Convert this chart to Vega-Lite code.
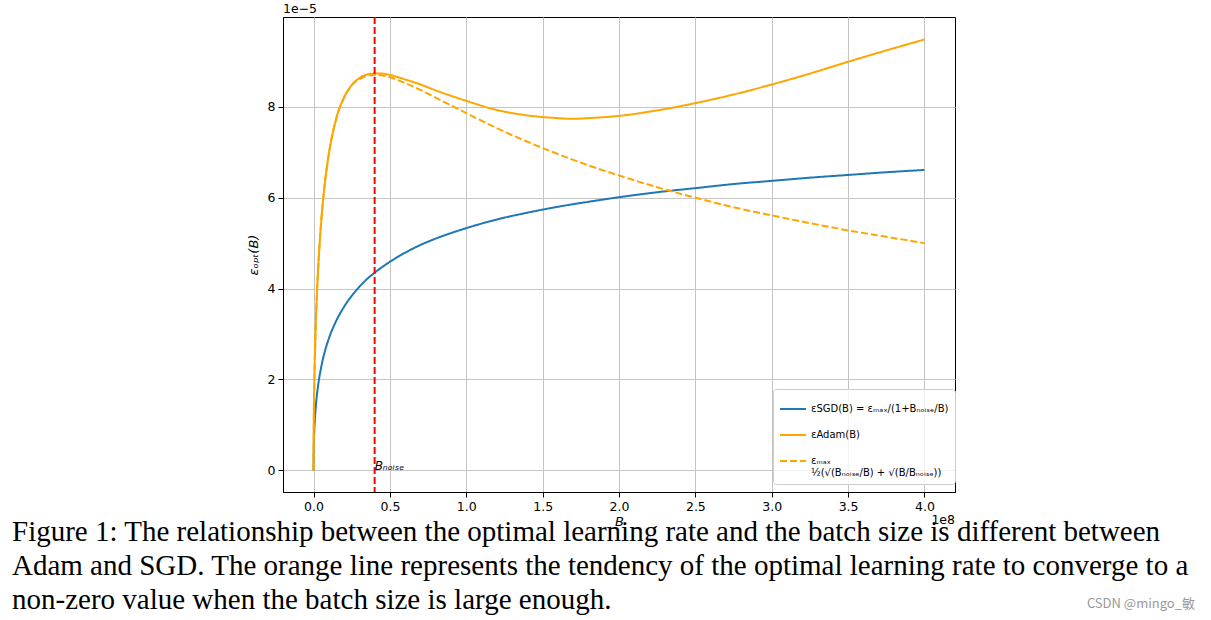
{
  "$schema": "https://vega.github.io/schema/vega-lite/v6.json",
  "width": 672,
  "height": 475,
  "autosize": "none",
  "padding": {"left": 283, "top": 17, "right": 256, "bottom": 128},
  "background": "white",
  "config": {
    "font": "DejaVu Sans",
    "view": {"stroke": "black", "strokeWidth": 1},
    "axis": {
      "domainColor": "black",
      "tickColor": "black",
      "tickSize": 5,
      "labelColor": "black",
      "labelFontSize": 12.5,
      "labelPadding": 3,
      "gridColor": "#c4c4c4",
      "gridWidth": 1,
      "titleColor": "black",
      "titleFontWeight": "normal",
      "titleFontSize": 13
    }
  },
  "title": {
    "text": [
      "Figure 1: The relationship between the optimal learning rate and the batch size is different between",
      "Adam and SGD. The orange line represents the tendency of the optimal learning rate to converge to a",
      "non-zero value when the batch size is large enough."
    ],
    "orient": "bottom",
    "anchor": "start",
    "frame": "group",
    "font": "Liberation Serif",
    "fontSize": 29,
    "fontWeight": "normal",
    "color": "black",
    "lineHeight": 34,
    "dx": -271,
    "offset": -93
  },
  "datasets": {
    "curves": [
      {"B": 0, "eps": 0, "series": "sgd"},
      {"B": 0.002, "eps": 0.57, "series": "sgd"},
      {"B": 0.005, "eps": 0.87, "series": "sgd"},
      {"B": 0.01, "eps": 1.19, "series": "sgd"},
      {"B": 0.02, "eps": 1.59, "series": "sgd"},
      {"B": 0.03, "eps": 1.87, "series": "sgd"},
      {"B": 0.05, "eps": 2.27, "series": "sgd"},
      {"B": 0.075, "eps": 2.63, "series": "sgd"},
      {"B": 0.1, "eps": 2.9, "series": "sgd"},
      {"B": 0.15, "eps": 3.3, "series": "sgd"},
      {"B": 0.2, "eps": 3.6, "series": "sgd"},
      {"B": 0.25, "eps": 3.84, "series": "sgd"},
      {"B": 0.3, "eps": 4.04, "series": "sgd"},
      {"B": 0.35, "eps": 4.21, "series": "sgd"},
      {"B": 0.4, "eps": 4.35, "series": "sgd"},
      {"B": 0.5, "eps": 4.59, "series": "sgd"},
      {"B": 0.6, "eps": 4.79, "series": "sgd"},
      {"B": 0.7, "eps": 4.96, "series": "sgd"},
      {"B": 0.8, "eps": 5.1, "series": "sgd"},
      {"B": 1.0, "eps": 5.33, "series": "sgd"},
      {"B": 1.2, "eps": 5.52, "series": "sgd"},
      {"B": 1.4, "eps": 5.67, "series": "sgd"},
      {"B": 1.6, "eps": 5.8, "series": "sgd"},
      {"B": 1.8, "eps": 5.91, "series": "sgd"},
      {"B": 2.0, "eps": 6.01, "series": "sgd"},
      {"B": 2.25, "eps": 6.12, "series": "sgd"},
      {"B": 2.5, "eps": 6.21, "series": "sgd"},
      {"B": 2.75, "eps": 6.3, "series": "sgd"},
      {"B": 3.0, "eps": 6.37, "series": "sgd"},
      {"B": 3.25, "eps": 6.44, "series": "sgd"},
      {"B": 3.5, "eps": 6.5, "series": "sgd"},
      {"B": 3.75, "eps": 6.56, "series": "sgd"},
      {"B": 4.0, "eps": 6.61, "series": "sgd"},

      {"B": 0, "eps": 0, "series": "adam"},
      {"B": 0.002, "eps": 1.22, "series": "adam"},
      {"B": 0.005, "eps": 1.92, "series": "adam"},
      {"B": 0.01, "eps": 2.68, "series": "adam"},
      {"B": 0.02, "eps": 3.71, "series": "adam"},
      {"B": 0.03, "eps": 4.43, "series": "adam"},
      {"B": 0.05, "eps": 5.47, "series": "adam"},
      {"B": 0.075, "eps": 6.35, "series": "adam"},
      {"B": 0.1, "eps": 6.96, "series": "adam"},
      {"B": 0.15, "eps": 7.76, "series": "adam"},
      {"B": 0.2, "eps": 8.21, "series": "adam"},
      {"B": 0.25, "eps": 8.48, "series": "adam"},
      {"B": 0.3, "eps": 8.63, "series": "adam"},
      {"B": 0.35, "eps": 8.71, "series": "adam"},
      {"B": 0.4, "eps": 8.73, "series": "adam"},
      {"B": 0.45, "eps": 8.73, "series": "adam"},
      {"B": 0.5, "eps": 8.7, "series": "adam"},
      {"B": 0.6, "eps": 8.6, "series": "adam"},
      {"B": 0.7, "eps": 8.49, "series": "adam"},
      {"B": 0.8, "eps": 8.36, "series": "adam"},
      {"B": 1.0, "eps": 8.13, "series": "adam"},
      {"B": 1.2, "eps": 7.93, "series": "adam"},
      {"B": 1.4, "eps": 7.81, "series": "adam"},
      {"B": 1.6, "eps": 7.75, "series": "adam"},
      {"B": 1.7, "eps": 7.735, "series": "adam"},
      {"B": 1.8, "eps": 7.75, "series": "adam"},
      {"B": 2.0, "eps": 7.8, "series": "adam"},
      {"B": 2.25, "eps": 7.92, "series": "adam"},
      {"B": 2.5, "eps": 8.08, "series": "adam"},
      {"B": 2.75, "eps": 8.27, "series": "adam"},
      {"B": 3.0, "eps": 8.49, "series": "adam"},
      {"B": 3.25, "eps": 8.73, "series": "adam"},
      {"B": 3.5, "eps": 8.99, "series": "adam"},
      {"B": 3.75, "eps": 9.24, "series": "adam"},
      {"B": 4.0, "eps": 9.48, "series": "adam"},

      {"B": 0, "eps": 0, "series": "approx"},
      {"B": 0.002, "eps": 1.22, "series": "approx"},
      {"B": 0.005, "eps": 1.92, "series": "approx"},
      {"B": 0.01, "eps": 2.68, "series": "approx"},
      {"B": 0.02, "eps": 3.71, "series": "approx"},
      {"B": 0.03, "eps": 4.43, "series": "approx"},
      {"B": 0.05, "eps": 5.47, "series": "approx"},
      {"B": 0.075, "eps": 6.35, "series": "approx"},
      {"B": 0.1, "eps": 6.96, "series": "approx"},
      {"B": 0.15, "eps": 7.75, "series": "approx"},
      {"B": 0.2, "eps": 8.2, "series": "approx"},
      {"B": 0.25, "eps": 8.47, "series": "approx"},
      {"B": 0.3, "eps": 8.61, "series": "approx"},
      {"B": 0.35, "eps": 8.68, "series": "approx"},
      {"B": 0.4, "eps": 8.7, "series": "approx"},
      {"B": 0.45, "eps": 8.69, "series": "approx"},
      {"B": 0.5, "eps": 8.65, "series": "approx"},
      {"B": 0.6, "eps": 8.52, "series": "approx"},
      {"B": 0.7, "eps": 8.37, "series": "approx"},
      {"B": 0.8, "eps": 8.2, "series": "approx"},
      {"B": 1.0, "eps": 7.86, "series": "approx"},
      {"B": 1.2, "eps": 7.53, "series": "approx"},
      {"B": 1.4, "eps": 7.23, "series": "approx"},
      {"B": 1.6, "eps": 6.96, "series": "approx"},
      {"B": 1.8, "eps": 6.71, "series": "approx"},
      {"B": 2.0, "eps": 6.49, "series": "approx"},
      {"B": 2.25, "eps": 6.23, "series": "approx"},
      {"B": 2.5, "eps": 6.0, "series": "approx"},
      {"B": 2.75, "eps": 5.79, "series": "approx"},
      {"B": 3.0, "eps": 5.61, "series": "approx"},
      {"B": 3.25, "eps": 5.44, "series": "approx"},
      {"B": 3.5, "eps": 5.28, "series": "approx"},
      {"B": 3.75, "eps": 5.14, "series": "approx"},
      {"B": 4.0, "eps": 5.0, "series": "approx"}
    ],
    "one": [{"n": 1}]
  },
  "layer": [
    {
      "data": {"name": "curves"},
      "mark": {"type": "line", "strokeWidth": 2, "interpolate": "monotone", "clip": true},
      "encoding": {
        "x": {
          "field": "B", "type": "quantitative",
          "scale": {"domain": [-0.2, 4.2], "nice": false, "zero": false},
          "axis": {
            "values": [0, 0.5, 1, 1.5, 2, 2.5, 3, 3.5, 4],
            "format": ".1f",
            "labelFontSize": 12.5,
            "title": "B",
            "titleFontSize": 13,
            "titleFontStyle": "italic",
            "titlePadding": 3
          }
        },
        "y": {
          "field": "eps", "type": "quantitative",
          "scale": {"domain": [-0.475, 9.975], "nice": false, "zero": false},
          "axis": {
            "values": [0, 2, 4, 6, 8],
            "format": "d",
            "labelFontSize": 12.5,
            "title": "εₒₚₜ(B)",
            "titleFontSize": 13,
            "titleFontStyle": "italic",
            "titlePadding": 7
          }
        },
        "color": {
          "field": "series", "type": "nominal",
          "scale": {"domain": ["sgd", "adam", "approx"], "range": ["#1f77b4", "#ffa500", "#ffa500"]},
          "legend": {
            "title": null,
            "orient": "none",
            "legendX": 490,
            "legendY": 372,
            "symbolType": "stroke",
            "symbolSize": 676,
            "symbolStrokeWidth": 2,
            "labelFontSize": 10,
            "labelLimit": 400,
            "labelColor": "black",
            "rowPadding": 7,
            "padding": 6,
            "fillColor": "rgba(255,255,255,0.8)",
            "strokeColor": "#cccccc",
            "cornerRadius": 3,
            "labelExpr": "datum.value == 'sgd' ? 'εSGD(B) = εₘₐₓ/(1+Bₙₒᵢₛₑ/B)' : datum.value == 'adam' ? 'εAdam(B)' : ['\u2003\u2003\u2003\u2003\u2003\u2003εₘₐₓ', '½(√(Bₙₒᵢₛₑ/B) + √(B/Bₙₒᵢₛₑ))']"
          }
        },
        "strokeDash": {
          "field": "series", "type": "nominal",
          "scale": {"domain": ["sgd", "adam", "approx"], "range": [[1, 0], [1, 0], [7, 3]]},
          "legend": {
            "title": null,
            "orient": "none",
            "legendX": 490,
            "legendY": 372,
            "symbolType": "stroke",
            "symbolSize": 676,
            "symbolStrokeWidth": 2,
            "labelFontSize": 10,
            "labelLimit": 400,
            "labelColor": "black",
            "rowPadding": 7,
            "padding": 6,
            "fillColor": "rgba(255,255,255,0.8)",
            "strokeColor": "#cccccc",
            "cornerRadius": 3,
            "labelExpr": "datum.value == 'sgd' ? 'εSGD(B) = εₘₐₓ/(1+Bₙₒᵢₛₑ/B)' : datum.value == 'adam' ? 'εAdam(B)' : ['\u2003\u2003\u2003\u2003\u2003\u2003εₘₐₓ', '½(√(Bₙₒᵢₛₑ/B) + √(B/Bₙₒᵢₛₑ))']"
          }
        }
      }
    },
    {
      "data": {"name": "one"},
      "mark": {"type": "rule", "color": "#ff0000", "strokeWidth": 2, "strokeDash": [7, 3]},
      "encoding": {"x": {"datum": 0.4}}
    },
    {
      "data": {"name": "one"},
      "mark": {"type": "text", "align": "left", "baseline": "alphabetic", "fontSize": 12, "fontStyle": "italic", "color": "black"},
      "encoding": {"x": {"datum": 0.4}, "y": {"datum": 0}, "text": {"value": "Bₙₒᵢₛₑ"}}
    },
    {
      "data": {"name": "one"},
      "mark": {"type": "text", "align": "left", "baseline": "bottom", "fontSize": 12.5, "dy": -1, "color": "black"},
      "encoding": {"x": {"datum": -0.2}, "y": {"datum": 9.975}, "text": {"value": "1e−5"}}
    },
    {
      "data": {"name": "one"},
      "mark": {"type": "text", "align": "right", "baseline": "top", "fontSize": 12.5, "dy": 22, "color": "black"},
      "encoding": {"x": {"datum": 4.2}, "y": {"datum": -0.475}, "text": {"value": "1e8"}}
    },
    {
      "data": {"name": "one"},
      "mark": {"type": "text", "align": "right", "baseline": "middle", "fontSize": 13, "dx": 240, "dy": 112, "color": "#999999", "font": "Noto Sans CJK SC"},
      "encoding": {"x": {"datum": 4.2}, "y": {"datum": -0.475}, "text": {"value": "CSDN @mingo_敏"}}
    }
  ]
}
